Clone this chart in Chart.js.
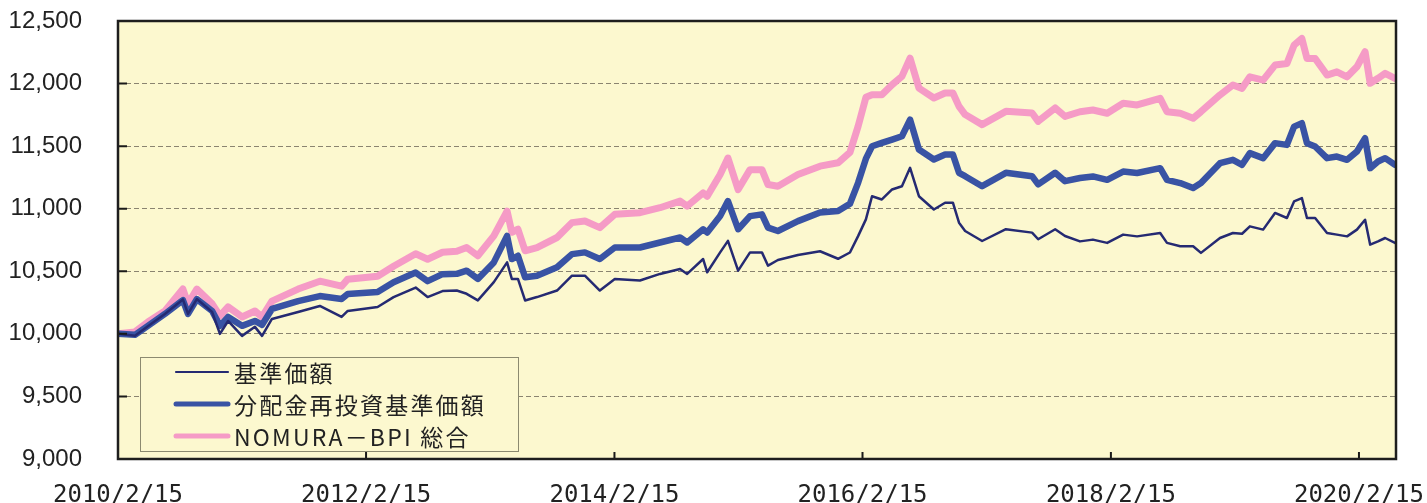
<!DOCTYPE html>
<html lang="ja">
<head>
  <meta charset="UTF-8">
  <title>基準価額の推移</title>
  <script src="https://cdn.jsdelivr.net/npm/chart.js"></script>
  <style>
    html, body { margin: 0; padding: 0; background: #fff; }
    #wrap { position: relative; width: 1427px; height: 503px; }
  </style>
</head>
<body>
  <div id="wrap"><canvas id="chart" width="1427" height="503"></canvas></div>

  <script>
    // 日付（2010/2/15 起点）
    const dates = [
      '2010/02/15','2010/04/06','2010/05/14','2010/07/03','2010/08/25','2010/09/09','2010/10/05','2010/11/19','2010/12/12','2011/01/05',
      '2011/02/15','2011/03/25','2011/04/15','2011/05/14','2011/07/30','2011/10/02','2011/12/05','2011/12/23','2012/03/20','2012/05/06',
      '2012/07/10','2012/08/14','2012/09/27','2012/11/08','2012/12/07','2013/01/09','2013/02/25','2013/04/05','2013/04/19','2013/05/07',
      '2013/05/28','2013/07/02','2013/08/30','2013/10/13','2013/11/20','2014/01/03','2014/02/16','2014/05/01','2014/06/29','2014/08/27',
      '2014/09/17','2014/11/03','2014/11/15','2014/12/23','2015/01/15','2015/02/14','2015/03/21','2015/04/25','2015/05/13','2015/06/11',
      '2015/08/09','2015/10/13','2015/12/05','2016/01/09','2016/02/02','2016/02/25','2016/03/14','2016/04/12','2016/05/12','2016/06/10',
      '2016/07/04','2016/07/30','2016/09/12','2016/10/15','2016/11/07','2016/11/25','2016/12/13','2017/02/01','2017/04/12','2017/06/28',
      '2017/07/16','2017/09/04','2017/10/03','2017/11/16','2017/12/24','2018/02/04','2018/03/23','2018/05/03','2018/07/10','2018/07/30',
      '2018/09/07','2018/10/15','2018/11/07','2019/01/02','2019/02/09','2019/03/08','2019/03/31','2019/05/09','2019/06/13','2019/07/18',
      '2019/08/08','2019/08/31','2019/09/15','2019/10/09','2019/11/13','2019/12/12','2020/01/11','2020/02/09','2020/03/04','2020/03/19',
      '2020/04/11','2020/05/02','2020/05/31'
    ];

    // 基準価額
    const navValues = [
      10000, 9984,10060,10159,10275,10159,10278,10175,10000,10103,
       9984,10056, 9984,10119,10175,10223,10135,10183,10215,10294,
      10370,10294,10342,10346,10320,10267,10413,10571,10439,10439,
      10267,10294,10346,10465,10465,10346,10439,10426,10479,10518,
      10479,10598,10492,10651,10743,10505,10651,10651,10545,10590,
      10630,10660,10600,10650,10781,10915,11100,11074,11154,11180,
      11327,11100,10994,11048,11048,10888,10822,10742,10836,10809,
      10756,10836,10782,10739,10753,10727,10793,10779,10806,10727,
      10700,10700,10647,10766,10806,10800,10859,10833,10966,10926,
      11058,11085,10926,10926,10806,10793,10779,10833,10912,10713,
      10739,10766,10727
    ];

    // 分配金再投資基準価額
    const reinvestValues = [
      10000, 9992,10064,10159,10270,10159,10278,10183,10064,10135,
      10064,10103,10072,10199,10262,10302,10278,10318,10334,10413,
      10490,10421,10477,10480,10505,10439,10571,10783,10598,10624,
      10452,10465,10532,10637,10651,10598,10690,10690,10730,10770,
      10730,10836,10810,10941,11061,10836,10941,10955,10849,10822,
      10901,10970,10981,11040,11207,11400,11499,11526,11552,11579,
      11712,11473,11393,11433,11433,11287,11260,11180,11287,11260,
      11194,11287,11220,11245,11258,11231,11297,11285,11324,11231,
      11205,11165,11205,11364,11391,11351,11444,11404,11524,11510,
      11656,11683,11524,11497,11404,11417,11391,11457,11563,11324,
      11377,11404,11351
    ];

    // NOMURA－BPI 総合
    const bpiValues = [
      10000,10016,10095,10183,10358,10240,10358,10240,10143,10215,
      10135,10183,10135,10262,10358,10421,10381,10437,10461,10540,
      10640,10596,10652,10660,10690,10624,10783,10981,10812,10836,
      10664,10690,10770,10889,10902,10849,10955,10968,11008,11061,
      11021,11127,11100,11273,11405,11153,11312,11312,11193,11180,
      11273,11340,11367,11450,11658,11890,11911,11911,11991,12057,
      12203,11964,11885,11925,11925,11818,11752,11672,11778,11765,
      11698,11805,11738,11775,11789,11763,11842,11829,11882,11775,
      11763,11723,11775,11909,11988,11962,12054,12028,12148,12161,
      12307,12360,12201,12201,12068,12094,12054,12134,12254,12002,
      12042,12082,12042
    ];

    const seriesNames = ['基準価額', '分配金再投資基準価額', 'NOMURA－BPI 総合'];
    const tickLabels = ['2010/2/15', '2012/2/15', '2014/2/15', '2016/2/15', '2018/2/15', '2020/2/15'];
    const endDate = '2020/06/03';

    // 2010/2/15 からの日数
    function toDays(s) {
      const [y, m, d] = s.split('/').map(Number);
      return (Date.UTC(y, m - 1, d) - Date.UTC(2010, 1, 15)) / 86400000;
    }
    function points(values) {
      return values.map((v, i) => ({ x: toDays(dates[i]), y: v }));
    }

    const plotBg = '#fcf8cf';

    // 背景・枠・内向き目盛・凡例
    const framePlugin = {
      id: 'frame',
      beforeDraw(chart) {
        const { ctx, chartArea: a } = chart;
        ctx.save();
        ctx.fillStyle = plotBg;
        ctx.fillRect(a.left, a.top, a.right - a.left, a.bottom - a.top);
        ctx.restore();
      },
      afterDraw(chart) {
        const { ctx, chartArea: a, scales } = chart;
        ctx.save();
        // 目盛
        ctx.strokeStyle = '#1a1a1a';
        ctx.lineWidth = 2;
        ctx.beginPath();
        scales.y.ticks.forEach(t => {
          const y = scales.y.getPixelForValue(t.value);
          ctx.moveTo(a.left, y); ctx.lineTo(a.left + 9, y);
        });
        scales.x.ticks.forEach(t => {
          const x = scales.x.getPixelForValue(t.value);
          ctx.moveTo(x, a.bottom); ctx.lineTo(x, a.bottom - 7);
        });
        ctx.stroke();
        // 枠
        ctx.lineWidth = 2.5;
        ctx.strokeStyle = '#1e1e1e';
        ctx.strokeRect(a.left, a.top, a.right - a.left, a.bottom - a.top);

        // 凡例
        const bx = 140, by = 357, bw = 378, bh = 94;
        ctx.fillStyle = plotBg;
        ctx.fillRect(bx, by, bw, bh);
        ctx.lineWidth = 1;
        ctx.strokeStyle = '#8c8a70';
        ctx.strokeRect(bx + 0.5, by + 0.5, bw, bh);
        const rows = [372, 404, 436];
        const widths = [2.2, 5, 5];
        chart.data.datasets.forEach((ds, i) => {
          ctx.strokeStyle = ds.borderColor;
          ctx.lineWidth = widths[i];
          ctx.lineCap = 'round';
          ctx.beginPath();
          ctx.moveTo(176, rows[i]); ctx.lineTo(228, rows[i]);
          ctx.stroke();
          ctx.fillStyle = '#222';
          ctx.font = '23px "Noto Sans CJK JP"';
          ctx.letterSpacing = '2.2px';
          ctx.textBaseline = 'middle';
          ctx.textAlign = 'left';
          ctx.fillText(ds.label, 234, rows[i] + 1);
        });
        ctx.letterSpacing = '0px';
        ctx.restore();
      }
    };

    new Chart(document.getElementById('chart'), {
      type: 'line',
      data: {
        datasets: [
          { label: seriesNames[0], data: points(navValues), borderColor: '#252a72', borderWidth: 2.5 },
          { label: seriesNames[1], data: points(reinvestValues), borderColor: '#3953a4', borderWidth: 6.5 },
          { label: seriesNames[2], data: points(bpiValues), borderColor: '#f59bc6', borderWidth: 7 }
        ]
      },
      options: {
        responsive: false,
        animation: false,
        elements: { point: { radius: 0 }, line: { tension: 0, borderJoinStyle: 'round', borderCapStyle: 'round' } },
        layout: { padding: { left: 0, right: 31, top: 21, bottom: 0 } },
        plugins: { legend: { display: false }, tooltip: { enabled: false } },
        scales: {
          x: {
            type: 'linear',
            min: 0,
            max: toDays(endDate),
            afterFit(s) { s.height = 44; },
            afterBuildTicks(s) { s.ticks = tickLabels.map(t => ({ value: toDays(t) })); },
            grid: { drawOnChartArea: false, drawTicks: true, tickLength: 22, tickColor: 'rgba(0,0,0,0)' },
            border: { display: false },
            ticks: {
              autoSkip: false,
              maxRotation: 0,
              padding: 0,
              color: '#222',
              font: { family: '"DejaVu Sans Mono"', size: 24 },
              callback: (v, i) => tickLabels[i]
            }
          },
          y: {
            min: 9000,
            max: 12500,
            afterFit(s) { s.width = 118; },
            grid: {
              drawTicks: true,
              tickLength: 36,
              tickColor: 'rgba(0,0,0,0)',
              lineWidth: 1,
              color: c => (c.tick.value === 9000 || c.tick.value === 12500) ? 'rgba(0,0,0,0)' : '#8a8470'
            },
            border: { display: false, dash: [5, 3] },
            ticks: {
              stepSize: 500,
              padding: 0,
              color: '#222',
              font: { family: '"Liberation Sans", Arial', size: 24 },
              callback: v => v.toLocaleString('en-US')
            }
          }
        }
      },
      plugins: [framePlugin]
    });
  </script>
</body>
</html>
